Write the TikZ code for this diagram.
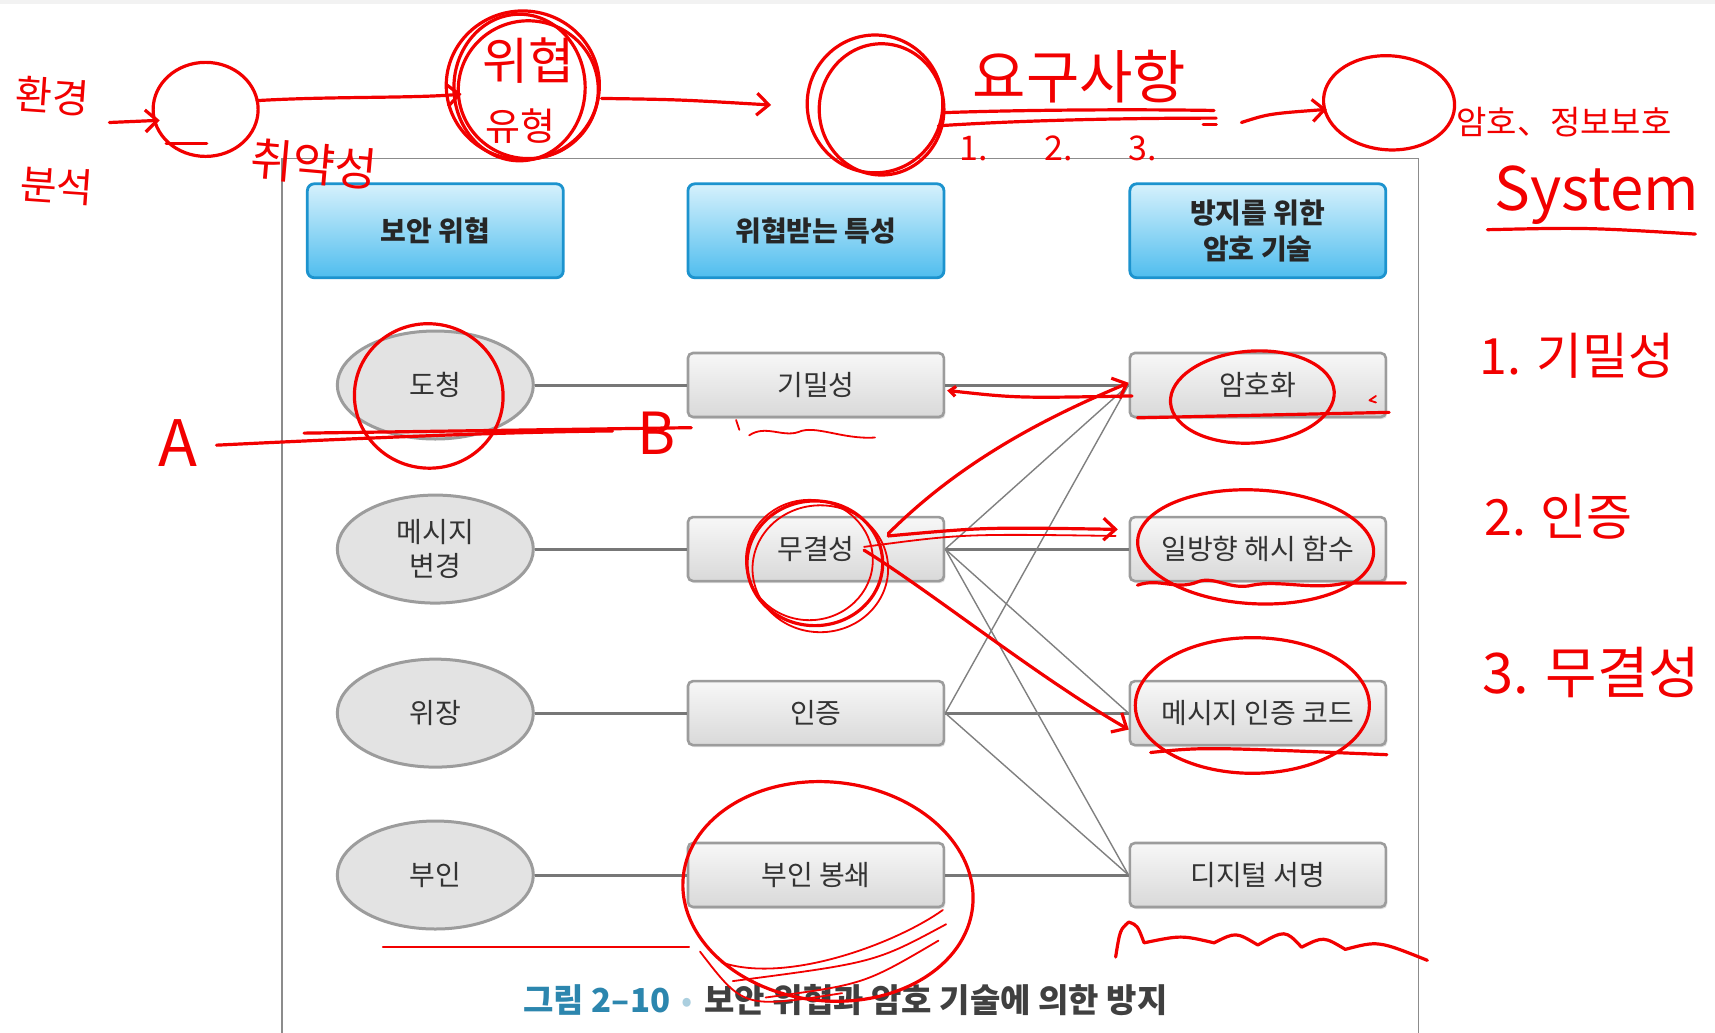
\documentclass[tikz,border=0pt]{standalone}
\usepackage{fontspec}
\setmainfont{Noto Sans CJK KR}
\usetikzlibrary{shapes.geometric,shadows,arrows.meta}
\definecolor{headtop}{HTML}{D6F1FC}
\definecolor{headfill}{HTML}{4FBDEE}
\definecolor{headline}{HTML}{1C93CE}
\definecolor{boxline}{HTML}{9C9C9C}
\definecolor{linkgray}{HTML}{777777}
\definecolor{capblue}{HTML}{2C86AE}
\definecolor{penred}{HTML}{F20000}

\begin{document}
\begin{tikzpicture}[x=1.0938pt,y=-1.0938pt]
  \tikzset{
    header/.style={
      draw=headline,
      line width=2.8pt,
      rounded corners=7pt,
      top color=headtop,
      bottom color=headfill,
      minimum width=256pt,
      minimum height=94pt,
      align=center,
      text=black!85,
      font=\fontsize{28}{36}\selectfont\bfseries
    },
    threat/.style={
      ellipse,
      draw=boxline,
      line width=3pt,
      fill=black!11,
      minimum width=196pt,
      minimum height=108pt,
      align=center,
      inner sep=0pt,
      text=black!80,
      font=\fontsize{28}{34}\selectfont
    },
    prop/.style={
      rectangle,
      rounded corners=5pt,
      draw=boxline,
      line width=2.6pt,
      top color=black!3,
      bottom color=black!15,
      minimum width=256pt,
      minimum height=64pt,
      text=black!80,
      font=\fontsize{28}{32}\selectfont,
      drop shadow={shadow xshift=1.5pt, shadow yshift=-2pt, opacity=0.25}
    },
    link/.style={
      draw=linkgray,
      line width=3pt
    },
    cross/.style={
      draw=black!50,
      line width=1.4pt
    },
    pen/.style={
      draw=penred,
      line width=3.2pt,
      line cap=round,
      line join=round
    },
    thinpen/.style={
      pen,
      line width=1.8pt
    },
    scrawl/.style={
      text=penred,
      inner sep=0pt
    },
    barb/.style={
      -{Straight Barb[length=12pt, width=22pt]}
    }
  }

  % Canvas
  \useasboundingbox (0,0) rectangle (1568,944);
  \fill[white] (0,0) rectangle (1568,944);
  \fill[black!5] (0,0) rectangle (1568,4);
  \draw[black!45, line width=1.4pt] (258,944) -- (258,145) -- (1297,145) -- (1297,944);

  % Column headers
  \node[header] (h1) at (398,211) {보안 위협};
  \node[header] (h2) at (746,211) {위협받는 특성};
  \node[header] (h3) at (1150,211) {방지를 위한\\암호 기술};

  % Threats
  \node[threat] (t1) at (398,352) {도청};
  \node[threat] (t2) at (398,502) {메시지\\변경};
  \node[threat] (t3) at (398,652) {위장};
  \node[threat] (t4) at (398,800) {부인};

  % Properties
  \node[prop] (p1) at (746,352) {기밀성};
  \node[prop] (p2) at (746,502) {무결성};
  \node[prop] (p3) at (746,652) {인증};
  \node[prop] (p4) at (746,800) {부인 봉쇄};

  % Techniques
  \node[prop] (c1) at (1150,352) {암호화};
  \node[prop] (c2) at (1150,502) {일방향 해시 함수};
  \node[prop] (c3) at (1150,652) {메시지 인증 코드};
  \node[prop] (c4) at (1150,800) {디지털 서명};

  % Links
  \draw[link] (t1) -- (p1);
  \draw[link] (t2) -- (p2);
  \draw[link] (t3) -- (p3);
  \draw[link] (t4) -- (p4);
  \draw[link] (p1) -- (c1);
  \draw[link] (p2) -- (c2);
  \draw[link] (p3) -- (c3);
  \draw[link] (p4) -- (c4);
  \draw[cross] (p2.east) -- (c1.west);
  \draw[cross] (p3.east) -- (c1.west);
  \draw[cross] (p2.east) -- (c3.west);
  \draw[cross] (p2.east) -- (c4.west);
  \draw[cross] (p3.east) -- (c4.west);

  % Caption
  \node (cap) at (773,914) {\fontsize{33}{36}\selectfont{\color{capblue}\bfseries 그림 2–10}\hspace{0.35em}{\color{capblue!40}•}\hspace{0.35em}{\color{black!75}\bfseries 보안 위협과 암호 기술에 의한 방지}};

  % Notes: top flow
  \node[scrawl, font=\fontsize{40}{42}\selectfont, rotate=-4] (n1) at (48,88) {환경};
  \node[scrawl, font=\fontsize{40}{42}\selectfont, rotate=-4] (n2) at (52,170) {분석};
  \draw[pen, barb] (100,112) -- (146,110);
  \draw[pen] (188,100) ellipse [x radius=48, y radius=43];
  \draw[pen] (152,131) -- (189,131);
  \node[scrawl, font=\fontsize{46}{48}\selectfont, rotate=-5] (n3) at (287,150) {취약성};
  \draw[pen, barb] (235,92) .. controls (300,88) and (380,90) .. (422,86);
  \draw[pen] (478,78) ellipse [x radius=70, y radius=68];
  \draw[pen] (483,82) ellipse [x radius=64, y radius=63];
  \draw[pen] (475,80) ellipse [x radius=60, y radius=67];
  \node[scrawl, font=\fontsize{50}{52}\selectfont] (n4) at (483,55) {위협};
  \node[scrawl, font=\fontsize{38}{40}\selectfont] (n5) at (476,115) {유형};
  \draw[pen, barb] (550,90) .. controls (620,91) .. (705,96);
  \draw[pen] (800,95) ellipse [x radius=62, y radius=63];
  \draw[pen] (806,100) ellipse [x radius=57, y radius=60];
  \node[scrawl, font=\fontsize{58}{60}\selectfont] (n6) at (987,70) {요구사항};
  \draw[pen] (862,103) .. controls (950,100) and (1050,100) .. (1110,101);
  \draw[pen] (858,115) .. controls (950,109) and (1050,108) .. (1112,108);
  \node[scrawl, font=\fontsize{34}{36}\selectfont] (m1) at (890,136) {1.};
  \node[scrawl, font=\fontsize{34}{36}\selectfont] (m2) at (968,136) {2.};
  \node[scrawl, font=\fontsize{34}{36}\selectfont] (m3) at (1045,136) {3.};
  \draw[pen] (1100,114) -- (1112,114);
  \draw[pen, barb] (1135,112) .. controls (1160,104) .. (1213,100);
  \draw[pen, rotate around={-4:(1270,94)}] (1270,94) ellipse [x radius=60, y radius=43];
  \node[scrawl, font=\fontsize{33}{35}\selectfont] (n7) at (1430,112) {암호、정보보호};
  \node[scrawl, font=\fontsize{60}{62}\selectfont] (n8) at (1460,178) {System};
  \draw[pen] (1360,210) .. controls (1450,208) .. (1550,214);

  % Notes: diagram marks
  \draw[pen, rotate around={-8:(392,362)}] (392,362) ellipse [x radius=68, y radius=66];
  \node[scrawl, font=\fontsize{64}{66}\selectfont] (na) at (163,405) {A};
  \node[scrawl, font=\fontsize{58}{60}\selectfont] (nb) at (600,396) {B};
  \draw[pen] (198,407) .. controls (300,402) and (450,395) .. (560,394);
  \draw[pen] (278,396) -- (632,391);
  \draw[thinpen] (673,384) -- (676,393);
  \draw[thinpen] (685,398) .. controls (700,388) and (715,400) .. (730,395)
    .. controls (745,388) and (770,402) .. (800,400);
  \draw[pen, {Straight Barb[length=6pt, width=10pt]}-] (866,357) .. controls (930,364) .. (1035,362);
  \draw[pen, barb] (812,488) .. controls (880,420) and (960,380) .. (1032,350);
  \draw[pen, rotate around={4:(1145,363)}] (1145,363) ellipse [x radius=75, y radius=42];
  \draw[pen] (1040,382) -- (1270,377);
  \draw[thinpen] (1258,362) -- (1252,366) -- (1258,368);
  \draw[pen] (745,515) ellipse [x radius=62, y radius=57];
  \draw[thinpen] (740,512) ellipse [x radius=58, y radius=55];
  \draw[thinpen] (750,520) ellipse [x radius=62, y radius=58];
  \draw[pen, barb] (812,490) .. controls (900,482) .. (1022,484);
  \draw[thinpen] (790,500) .. controls (880,488) .. (1020,490);
  \draw[pen, barb] (790,503) .. controls (850,540) and (950,620) .. (1032,667);
  \draw[pen, rotate around={-3:(1148,500)}] (1148,500) ellipse [x radius=108, y radius=52];
  \draw[pen] (1040,535) .. controls (1060,528) and (1075,540) .. (1095,532)
    .. controls (1110,526) and (1125,540) .. (1145,535)
    .. controls (1170,530) and (1200,540) .. (1230,533) -- (1285,533);
  \draw[pen] (1145,645) ellipse [x radius=107, y radius=62];
  \draw[pen] (1052,688) .. controls (1100,683) .. (1268,690);
  \draw[pen, rotate around={-6:(757,815)}] (757,815) ellipse [x radius=133, y radius=100];
  \draw[thinpen] (862,832) .. controls (820,862) and (720,900) .. (660,880);
  \draw[thinpen] (865,845) .. controls (800,880) .. (670,897);
  \draw[thinpen] (858,860) .. controls (790,900) .. (700,912);
  \draw[thinpen] (640,870) .. controls (680,922) .. (770,908);
  \draw[thinpen] (350,866) -- (630,866);
  \draw[pen] (1020,875) .. controls (1024,850) .. (1032,843) .. controls (1040,846) .. (1046,862)
    .. controls (1080,855) .. (1110,862) .. controls (1130,852) .. (1150,864)
    .. controls (1175,850) .. (1190,866) .. controls (1210,856) .. (1230,868)
    .. controls (1260,860) .. (1305,878);

  % Notes: right list
  \node[scrawl, font=\fontsize{50}{52}\selectfont] (r1) at (1442,325) {1. 기밀성};
  \node[scrawl, font=\fontsize{50}{52}\selectfont] (r2) at (1425,472) {2. 인증};
  \node[scrawl, font=\fontsize{56}{58}\selectfont] (r3) at (1455,615) {3. 무결성};
\end{tikzpicture}
\end{document}
